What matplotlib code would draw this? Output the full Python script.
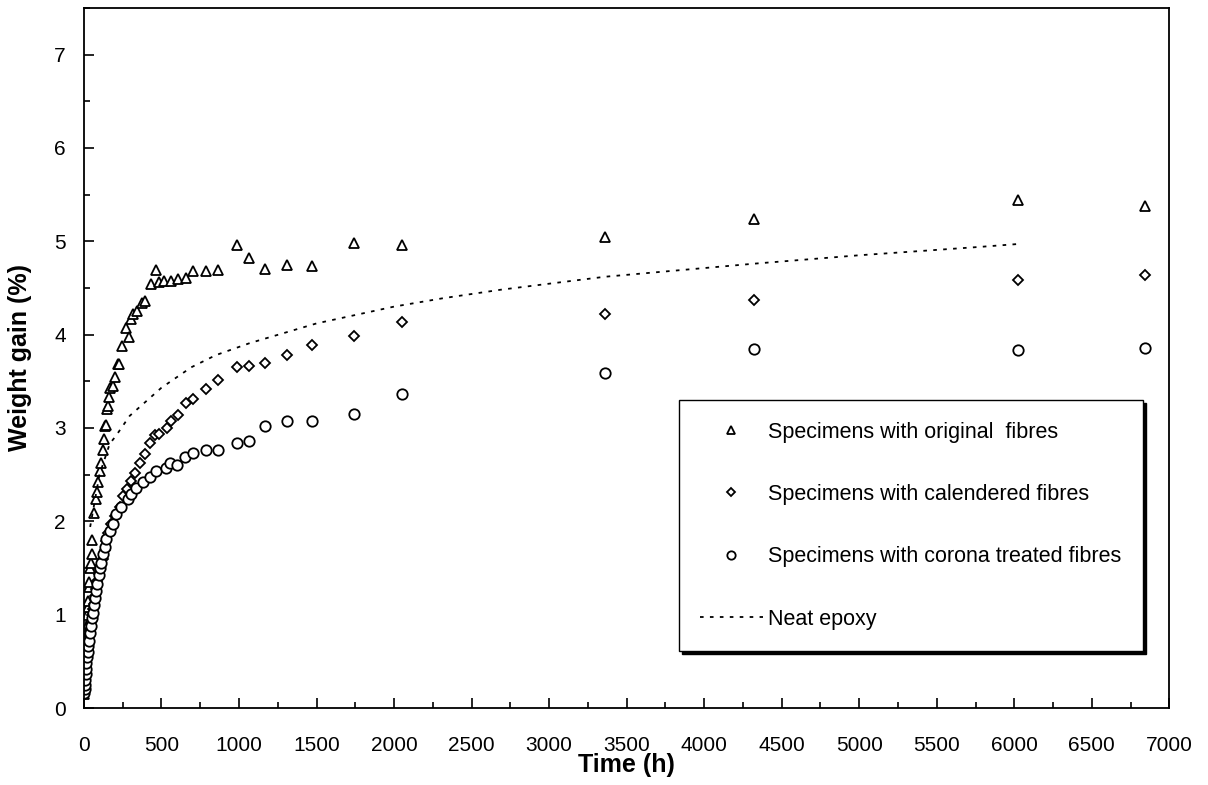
import matplotlib
matplotlib.use("Agg")
import matplotlib.pyplot as plt
from matplotlib.ticker import MultipleLocator

plt.rcParams["font.family"] = ["Liberation Sans", "DejaVu Sans"]

# weight gain (%) vs time (h)
orig_t = [3, 5, 7, 9, 11, 13, 16, 19, 22, 25, 28, 31, 34, 40, 45, 50, 54, 66, 75, 82,
          92, 103, 110, 120, 129, 133, 142, 146, 155, 163, 168, 185, 200, 217, 226, 247,
          271, 290, 303, 318, 340, 372, 394, 432, 465, 486, 518, 561, 604, 656, 705, 787,
          866, 985, 1067, 1165, 1310, 1471, 1742, 2052, 3361, 4323, 6026, 6845]
orig_w = [0.15, 0.25, 0.35, 0.45, 0.55, 0.65, 0.75, 0.88, 1.0, 1.08, 1.15, 1.3, 1.35, 1.5,
          1.55, 1.65, 1.8, 2.09, 2.24, 2.31, 2.42, 2.54, 2.63, 2.76, 2.88, 3.02, 3.03, 3.2,
          3.24, 3.33, 3.43, 3.45, 3.55, 3.68, 3.69, 3.88, 4.07, 3.97, 4.17, 4.22, 4.25, 4.34,
          4.36, 4.54, 4.69, 4.56, 4.57, 4.57, 4.6, 4.61, 4.68, 4.68, 4.69, 4.96, 4.82, 4.7,
          4.75, 4.74, 4.98, 4.96, 5.05, 5.24, 5.44, 5.38]

cal_t = [2, 4, 6, 8, 10, 13, 16, 20, 24, 28, 33, 38, 44, 50, 56, 63, 70, 78, 86, 95, 103,
         112, 122, 133, 144, 155, 176, 198, 230, 252, 279, 305, 327, 359, 391, 423, 456,
         486, 533, 561, 604, 656, 705, 787, 866, 985, 1067, 1165, 1310, 1471, 1742, 2052,
         3361, 4323, 6026, 6845]
cal_w = [0.15, 0.2, 0.26, 0.32, 0.38, 0.45, 0.5, 0.58, 0.64, 0.7, 0.78, 0.85, 0.92, 1.0,
         1.06, 1.12, 1.2, 1.28, 1.36, 1.44, 1.48, 1.53, 1.6, 1.69, 1.79, 1.88, 1.97, 2.06,
         2.15, 2.27, 2.35, 2.43, 2.52, 2.63, 2.72, 2.84, 2.93, 2.94, 3.0, 3.08, 3.14, 3.27,
         3.31, 3.42, 3.51, 3.65, 3.66, 3.7, 3.78, 3.89, 3.99, 4.13, 4.22, 4.37, 4.59, 4.64]

cor_t = [2, 4, 6, 8, 10, 13, 16, 20, 24, 28, 33, 38, 44, 50, 56, 63, 70, 78, 86, 95, 103,
         112, 122, 133, 144, 166, 187, 208, 241, 284, 305, 337, 381, 423, 466, 527, 555,
         602, 652, 705, 787, 866, 985, 1067, 1165, 1310, 1471, 1742, 2052, 3361, 4323,
         6026, 6845]
cor_w = [0.16, 0.2, 0.25, 0.3, 0.36, 0.42, 0.48, 0.55, 0.6, 0.66, 0.72, 0.8, 0.88, 0.96,
         1.02, 1.1, 1.18, 1.25, 1.33, 1.42, 1.5, 1.55, 1.65, 1.72, 1.81, 1.9, 1.97, 2.08,
         2.15, 2.24, 2.29, 2.36, 2.42, 2.47, 2.54, 2.57, 2.62, 2.6, 2.69, 2.73, 2.76, 2.76,
         2.84, 2.86, 3.02, 3.08, 3.07, 3.15, 3.36, 3.59, 3.85, 3.83, 3.86]

epoxy_t = [40, 100, 166, 208, 295, 499, 692, 850, 1071, 1500, 2000, 2316, 2684, 3361,
           4323, 5000, 5781, 6020]
epoxy_w = [1.94, 2.5, 2.83, 2.92, 3.13, 3.43, 3.65, 3.78, 3.91, 4.12, 4.3, 4.39, 4.48,
           4.62, 4.76, 4.85, 4.94, 4.97]

fig = plt.figure(figsize=(12.08, 7.85), dpi=100)
ax = fig.add_axes([0.0695, 0.098, 0.8985, 0.892])

ax.plot(orig_t, orig_w, linestyle="none", marker="^", markersize=7.5, mfc="white",
        mec="black", mew=1.3, label="Specimens with original  fibres")
ax.plot(cal_t, cal_w, linestyle="none", marker="D", markersize=5.5, mfc="white",
        mec="black", mew=1.3, label="Specimens with calendered fibres")
ax.plot(cor_t, cor_w, linestyle="none", marker="o", markersize=7.5, mfc="white",
        mec="black", mew=1.3, label="Specimens with corona treated fibres")
ax.plot(epoxy_t, epoxy_w, color="black", linestyle=(0, (2, 3.5)), linewidth=1.3,
        label="Neat epoxy")

ax.set_xlim(0, 7000)
ax.set_ylim(0, 7.5)
ax.xaxis.set_major_locator(MultipleLocator(500))
ax.xaxis.set_minor_locator(MultipleLocator(250))
ax.yaxis.set_major_locator(MultipleLocator(1))
ax.yaxis.set_minor_locator(MultipleLocator(0.5))
ax.tick_params(which="both", direction="in", top=False, right=False, width=1.2,
               labelsize=15)
ax.tick_params(which="major", length=7)
ax.tick_params(which="minor", length=4)
ax.tick_params(axis="x", pad=20)
ax.tick_params(axis="y", pad=13)
for s in ax.spines.values():
    s.set_linewidth(1.3)

ax.set_xlabel("Time (h)", fontsize=18, fontweight="bold", labelpad=-1)
ax.set_ylabel("Weight gain (%)", fontsize=18, fontweight="bold", labelpad=16)

leg = ax.legend(loc="upper left", bbox_to_anchor=(0.548, 0.44), fontsize=15.5,
                markerscale=0.8, labelspacing=1.92, handlelength=2.9,
                handletextpad=0.25, borderpad=1.0, frameon=True, fancybox=False,
                shadow={"color": "black", "alpha": 1.0}, borderaxespad=0)
leg.get_frame().set_edgecolor("black")
leg.get_frame().set_linewidth(1.0)

fig.savefig("out.png", dpi=100)
